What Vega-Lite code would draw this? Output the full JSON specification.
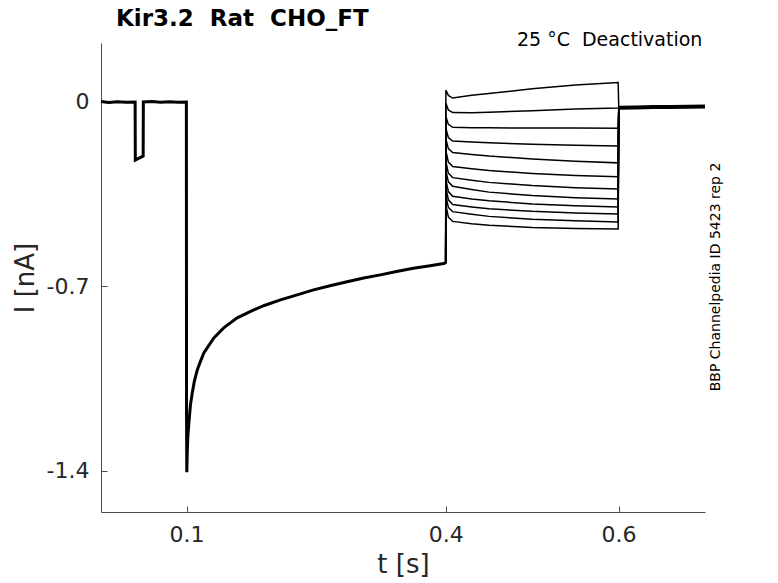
{
  "$schema": "https://vega.github.io/schema/vega-lite/v6.json",
  "width": 604,
  "height": 469,
  "autosize": {"type": "none"},
  "padding": {"left": 101, "top": 43, "right": 73, "bottom": 71},
  "background": "white",
  "title": {"text": "Kir3.2 \u00a0Rat \u00a0CHO_FT", "anchor": "start", "frame": "group", "dx": 15, "font": "DejaVu Sans", "fontSize": 23, "fontWeight": "bold", "color": "#000000", "offset": 0},
  "config": {
    "view": {"stroke": null},
    "axis": {"domainColor": "#4d4d4d", "tickColor": "#4d4d4d", "tickSize": -6, "labelFont": "DejaVu Sans", "labelFontSize": 22, "labelColor": "#262626", "titleFont": "DejaVu Sans", "titleFontSize": 26, "titleFontWeight": "normal", "titleColor": "#262626", "grid": false}
  },
  "datasets": {
    "traces": [
    {"sweep": "hold", "t": 0.001, "I": 0.002},
    {"sweep": "hold", "t": 0.01, "I": -0.002},
    {"sweep": "hold", "t": 0.02, "I": 0.001},
    {"sweep": "hold", "t": 0.03, "I": -0.001},
    {"sweep": "hold", "t": 0.0405, "I": 0.0},
    {"sweep": "hold", "t": 0.0407, "I": -0.22},
    {"sweep": "hold", "t": 0.045, "I": -0.213},
    {"sweep": "hold", "t": 0.0498, "I": -0.205},
    {"sweep": "hold", "t": 0.05, "I": 0.0},
    {"sweep": "hold", "t": 0.06, "I": 0.002},
    {"sweep": "hold", "t": 0.07, "I": -0.001},
    {"sweep": "hold", "t": 0.08, "I": 0.001},
    {"sweep": "hold", "t": 0.09, "I": -0.001},
    {"sweep": "hold", "t": 0.0998, "I": 0.0},
    {"sweep": "hold", "t": 0.1, "I": -1.2},
    {"sweep": "hold", "t": 0.1003, "I": -1.405},
    {"sweep": "hold", "t": 0.1008, "I": -1.33},
    {"sweep": "hold", "t": 0.1015, "I": -1.27},
    {"sweep": "hold", "t": 0.1027, "I": -1.218},
    {"sweep": "hold", "t": 0.1045, "I": -1.15},
    {"sweep": "hold", "t": 0.1066, "I": -1.104},
    {"sweep": "hold", "t": 0.109, "I": -1.06},
    {"sweep": "hold", "t": 0.1124, "I": -1.017},
    {"sweep": "hold", "t": 0.116, "I": -0.985},
    {"sweep": "hold", "t": 0.12, "I": -0.952},
    {"sweep": "hold", "t": 0.1316, "I": -0.895},
    {"sweep": "hold", "t": 0.143, "I": -0.857},
    {"sweep": "hold", "t": 0.1586, "I": -0.819},
    {"sweep": "hold", "t": 0.1778, "I": -0.789},
    {"sweep": "hold", "t": 0.19, "I": -0.772},
    {"sweep": "hold", "t": 0.2087, "I": -0.751},
    {"sweep": "hold", "t": 0.227, "I": -0.733},
    {"sweep": "hold", "t": 0.247, "I": -0.713},
    {"sweep": "hold", "t": 0.266, "I": -0.697},
    {"sweep": "hold", "t": 0.2858, "I": -0.682},
    {"sweep": "hold", "t": 0.305, "I": -0.668},
    {"sweep": "hold", "t": 0.3243, "I": -0.656},
    {"sweep": "hold", "t": 0.343, "I": -0.643},
    {"sweep": "hold", "t": 0.3624, "I": -0.631},
    {"sweep": "hold", "t": 0.38, "I": -0.622},
    {"sweep": "hold", "t": 0.3995, "I": -0.612},

    {"sweep": "s1", "t": 0.3999, "I": -0.612}, {"sweep": "s1", "t": 0.4001, "I": 0.045}, {"sweep": "s1", "t": 0.403, "I": 0.025}, {"sweep": "s1", "t": 0.408, "I": 0.015}, {"sweep": "s1", "t": 0.43, "I": 0.026}, {"sweep": "s1", "t": 0.45, "I": 0.032}, {"sweep": "s1", "t": 0.5, "I": 0.05}, {"sweep": "s1", "t": 0.55, "I": 0.064}, {"sweep": "s1", "t": 0.5995, "I": 0.074}, {"sweep": "s1", "t": 0.6002, "I": -0.022},
    {"sweep": "s2", "t": 0.3999, "I": -0.612}, {"sweep": "s2", "t": 0.4001, "I": -0.005}, {"sweep": "s2", "t": 0.403, "I": -0.03}, {"sweep": "s2", "t": 0.408, "I": -0.04}, {"sweep": "s2", "t": 0.43, "I": -0.041}, {"sweep": "s2", "t": 0.45, "I": -0.039}, {"sweep": "s2", "t": 0.5, "I": -0.033}, {"sweep": "s2", "t": 0.55, "I": -0.027}, {"sweep": "s2", "t": 0.5995, "I": -0.023}, {"sweep": "s2", "t": 0.6002, "I": -0.022},
    {"sweep": "s3", "t": 0.3999, "I": -0.612}, {"sweep": "s3", "t": 0.4001, "I": -0.055}, {"sweep": "s3", "t": 0.403, "I": -0.085}, {"sweep": "s3", "t": 0.408, "I": -0.096}, {"sweep": "s3", "t": 0.43, "I": -0.098}, {"sweep": "s3", "t": 0.45, "I": -0.098}, {"sweep": "s3", "t": 0.5, "I": -0.099}, {"sweep": "s3", "t": 0.55, "I": -0.099}, {"sweep": "s3", "t": 0.5995, "I": -0.1}, {"sweep": "s3", "t": 0.6002, "I": -0.022},
    {"sweep": "s4", "t": 0.3999, "I": -0.612}, {"sweep": "s4", "t": 0.4001, "I": -0.1}, {"sweep": "s4", "t": 0.403, "I": -0.135}, {"sweep": "s4", "t": 0.408, "I": -0.148}, {"sweep": "s4", "t": 0.43, "I": -0.152}, {"sweep": "s4", "t": 0.45, "I": -0.155}, {"sweep": "s4", "t": 0.5, "I": -0.16}, {"sweep": "s4", "t": 0.55, "I": -0.164}, {"sweep": "s4", "t": 0.5995, "I": -0.167}, {"sweep": "s4", "t": 0.6002, "I": -0.022},
    {"sweep": "s5", "t": 0.3999, "I": -0.612}, {"sweep": "s5", "t": 0.4001, "I": -0.14}, {"sweep": "s5", "t": 0.403, "I": -0.177}, {"sweep": "s5", "t": 0.408, "I": -0.192}, {"sweep": "s5", "t": 0.43, "I": -0.199}, {"sweep": "s5", "t": 0.45, "I": -0.205}, {"sweep": "s5", "t": 0.5, "I": -0.216}, {"sweep": "s5", "t": 0.55, "I": -0.225}, {"sweep": "s5", "t": 0.5995, "I": -0.231}, {"sweep": "s5", "t": 0.6002, "I": -0.022},
    {"sweep": "s6", "t": 0.3999, "I": -0.612}, {"sweep": "s6", "t": 0.4001, "I": -0.185}, {"sweep": "s6", "t": 0.403, "I": -0.228}, {"sweep": "s6", "t": 0.408, "I": -0.245}, {"sweep": "s6", "t": 0.43, "I": -0.253}, {"sweep": "s6", "t": 0.45, "I": -0.26}, {"sweep": "s6", "t": 0.5, "I": -0.271}, {"sweep": "s6", "t": 0.55, "I": -0.279}, {"sweep": "s6", "t": 0.5995, "I": -0.284}, {"sweep": "s6", "t": 0.6002, "I": -0.022},
    {"sweep": "s7", "t": 0.3999, "I": -0.612}, {"sweep": "s7", "t": 0.4001, "I": -0.225}, {"sweep": "s7", "t": 0.403, "I": -0.27}, {"sweep": "s7", "t": 0.408, "I": -0.287}, {"sweep": "s7", "t": 0.43, "I": -0.297}, {"sweep": "s7", "t": 0.45, "I": -0.305}, {"sweep": "s7", "t": 0.5, "I": -0.317}, {"sweep": "s7", "t": 0.55, "I": -0.325}, {"sweep": "s7", "t": 0.5995, "I": -0.33}, {"sweep": "s7", "t": 0.6002, "I": -0.022},
    {"sweep": "s8", "t": 0.3999, "I": -0.612}, {"sweep": "s8", "t": 0.4001, "I": -0.26}, {"sweep": "s8", "t": 0.403, "I": -0.303}, {"sweep": "s8", "t": 0.408, "I": -0.32}, {"sweep": "s8", "t": 0.43, "I": -0.332}, {"sweep": "s8", "t": 0.45, "I": -0.342}, {"sweep": "s8", "t": 0.5, "I": -0.355}, {"sweep": "s8", "t": 0.55, "I": -0.363}, {"sweep": "s8", "t": 0.5995, "I": -0.368}, {"sweep": "s8", "t": 0.6002, "I": -0.022},
    {"sweep": "s9", "t": 0.3999, "I": -0.612}, {"sweep": "s9", "t": 0.4001, "I": -0.295}, {"sweep": "s9", "t": 0.403, "I": -0.34}, {"sweep": "s9", "t": 0.408, "I": -0.358}, {"sweep": "s9", "t": 0.43, "I": -0.368}, {"sweep": "s9", "t": 0.45, "I": -0.375}, {"sweep": "s9", "t": 0.5, "I": -0.387}, {"sweep": "s9", "t": 0.55, "I": -0.394}, {"sweep": "s9", "t": 0.5995, "I": -0.398}, {"sweep": "s9", "t": 0.6002, "I": -0.022},
    {"sweep": "s10", "t": 0.3999, "I": -0.612}, {"sweep": "s10", "t": 0.4001, "I": -0.325}, {"sweep": "s10", "t": 0.403, "I": -0.371}, {"sweep": "s10", "t": 0.408, "I": -0.389}, {"sweep": "s10", "t": 0.43, "I": -0.398}, {"sweep": "s10", "t": 0.45, "I": -0.405}, {"sweep": "s10", "t": 0.5, "I": -0.415}, {"sweep": "s10", "t": 0.55, "I": -0.421}, {"sweep": "s10", "t": 0.5995, "I": -0.425}, {"sweep": "s10", "t": 0.6002, "I": -0.022},
    {"sweep": "s11", "t": 0.3999, "I": -0.612}, {"sweep": "s11", "t": 0.4001, "I": -0.355}, {"sweep": "s11", "t": 0.403, "I": -0.4}, {"sweep": "s11", "t": 0.408, "I": -0.416}, {"sweep": "s11", "t": 0.43, "I": -0.426}, {"sweep": "s11", "t": 0.45, "I": -0.434}, {"sweep": "s11", "t": 0.5, "I": -0.445}, {"sweep": "s11", "t": 0.55, "I": -0.451}, {"sweep": "s11", "t": 0.5995, "I": -0.455}, {"sweep": "s11", "t": 0.6002, "I": -0.022},
    {"sweep": "s12", "t": 0.3999, "I": -0.612}, {"sweep": "s12", "t": 0.4001, "I": -0.39}, {"sweep": "s12", "t": 0.403, "I": -0.437}, {"sweep": "s12", "t": 0.408, "I": -0.453}, {"sweep": "s12", "t": 0.43, "I": -0.462}, {"sweep": "s12", "t": 0.45, "I": -0.468}, {"sweep": "s12", "t": 0.5, "I": -0.476}, {"sweep": "s12", "t": 0.55, "I": -0.48}, {"sweep": "s12", "t": 0.5995, "I": -0.482}, {"sweep": "s12", "t": 0.6002, "I": -0.022},

    {"sweep": "tail", "t": 0.6002, "I": -0.022},
    {"sweep": "tail", "t": 0.62, "I": -0.021},
    {"sweep": "tail", "t": 0.64, "I": -0.019},
    {"sweep": "tail", "t": 0.66, "I": -0.019},
    {"sweep": "tail", "t": 0.68, "I": -0.018},
    {"sweep": "tail", "t": 0.7, "I": -0.017}
    ],
    "notes": [
      {"note": "25 \u00b0C \u00a0Deactivation", "t": 0.697, "I": 0.235, "kind": "top"},
      {"note": "BBP Channelpedia ID 5423 rep 2", "t": 0.7127, "I": -0.664, "kind": "side"}
    ]
  },
  "layer": [
    {"data": {"name": "traces"}, "transform": [{"filter": "datum.sweep == 'hold'"}], "mark": {"type": "line", "color": "#000000", "strokeWidth": 3},
      "encoding": {
        "x": {"field": "t", "type": "quantitative", "scale": {"domain": [0.001, 0.7], "nice": false, "zero": false},
          "axis": {"title": "t [s]", "values": [0.1, 0.4, 0.6], "labelExpr": "toString(datum.value)", "labelPadding": 18, "titlePadding": 6}},
        "y": {"field": "I", "type": "quantitative", "scale": {"domain": [-1.5556, 0.2238], "nice": false, "zero": false},
          "axis": {"title": "I [nA]", "values": [0, -0.7, -1.4], "labelExpr": "toString(datum.value)", "labelPadding": 18, "titlePadding": 8}}
      }},
    {"data": {"name": "traces"}, "transform": [{"filter": "datum.sweep != 'hold' && datum.sweep != 'tail'"}], "mark": {"type": "line", "color": "#000000", "strokeWidth": 1.5},
      "encoding": {"x": {"field": "t", "type": "quantitative"}, "y": {"field": "I", "type": "quantitative"}, "detail": {"field": "sweep"}}},
    {"data": {"name": "traces"}, "transform": [{"filter": "datum.sweep == 'tail'"}], "mark": {"type": "line", "color": "#000000", "strokeWidth": 4},
      "encoding": {"x": {"field": "t", "type": "quantitative"}, "y": {"field": "I", "type": "quantitative"}}},
    {"data": {"name": "notes"}, "transform": [{"filter": "datum.kind == 'top'"}],
      "mark": {"type": "text", "align": "right", "baseline": "middle", "font": "DejaVu Sans", "fontSize": 19, "color": "#000000"},
      "encoding": {"x": {"field": "t", "type": "quantitative"}, "y": {"field": "I", "type": "quantitative"}, "text": {"field": "note"}}},
    {"data": {"name": "notes"}, "transform": [{"filter": "datum.kind == 'side'"}],
      "mark": {"type": "text", "align": "center", "baseline": "middle", "angle": 270, "font": "DejaVu Sans", "fontSize": 14, "color": "#000000"},
      "encoding": {"x": {"field": "t", "type": "quantitative"}, "y": {"field": "I", "type": "quantitative"}, "text": {"field": "note"}}}
  ]
}
